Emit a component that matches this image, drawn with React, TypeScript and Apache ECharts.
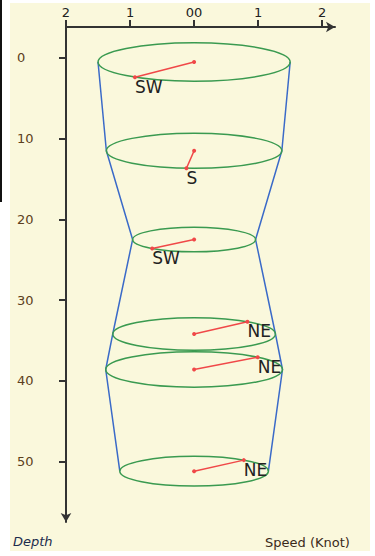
import React, { useEffect, useRef } from "react";
import * as echarts from "echarts";

const depths = [0.5, 11.5, 22.5, 34.2, 38.6, 51.2];
const speeds = [1.5, 1.37, 0.96, 1.27, 1.38, 1.16];
const directions = [218, 185, 223, 41, 46, 42];
const dirLabels = ["SW", "S", "SW", "NE", "NE", "NE"];
const speedTicks = [-2, -1, 0, 1, 2];
const depthTicks = [0, 10, 20, 30, 40, 50];

const FONT = '"DejaVu Sans", Verdana, sans-serif';

export default function App() {
  const ref = useRef<HTMLDivElement>(null);
  useEffect(() => {
    if (!ref.current) return;
    const chart = echarts.init(ref.current, null, { renderer: "svg" });
    const ellipseData = depths.map((d, i) => [d, speeds[i], directions[i], i]);
    const leftEdge = depths.map((d, i) => [-speeds[i], d]);
    const rightEdge = depths.map((d, i) => [speeds[i], d]);
    const axisColor = "#333";
    chart.setOption({
      animation: false,
      backgroundColor: "#ffffff",
      grid: { left: 66, top: 27, right: 40, bottom: 34, outerBoundsMode: "none" },
      xAxis: {
        type: "value",
        position: "top",
        min: -2,
        max: 2.2,
        axisLine: {
          show: true,
          onZero: false,
          symbol: ["none", "arrow"],
          symbolSize: [8, 9],
          lineStyle: { color: axisColor, width: 2 },
        },
        axisTick: {
          show: true,
          customValues: speedTicks,
          length: 7,
          lineStyle: { color: axisColor, width: 2 },
        },
        axisLabel: {
          customValues: speedTicks,
          formatter: (v: number) => (v === 0 ? "00" : String(Math.abs(v))),
          color: "#222",
          fontSize: 13,
          fontFamily: FONT,
          margin: 8,
        },
        splitLine: { show: false },
      },
      yAxis: {
        type: "value",
        inverse: true,
        min: -3.84,
        max: 57.5,
        axisLine: {
          show: true,
          onZero: false,
          symbol: ["arrow", "none"],
          symbolSize: [8, 9],
          lineStyle: { color: axisColor, width: 2 },
        },
        axisTick: {
          show: true,
          customValues: depthTicks,
          length: 7,
          lineStyle: { color: axisColor, width: 2 },
        },
        axisLabel: {
          customValues: depthTicks,
          align: "left",
          margin: 49,
          color: "#5c4020",
          fontSize: 13,
          fontFamily: FONT,
        },
        splitLine: { show: false },
      },
      graphic: [
        { type: "rect", z: -100, shape: { x: 10, y: 3, width: 360, height: 548 }, style: { fill: "#faf8dc" } },
        { type: "rect", z: -100, shape: { x: 0, y: 0, width: 2, height: 202 }, style: { fill: "#111" } },
        {
          type: "text",
          x: 13,
          y: 535,
          style: { text: "Depth", fill: "#1c2c4c", font: `italic 13px ${FONT}`, align: "left", verticalAlign: "top" },
        },
        {
          type: "text",
          x: 265,
          y: 536,
          style: { text: "Speed (Knot)", fill: "#3a2a1a", font: `13px ${FONT}`, align: "left", verticalAlign: "top" },
        },
      ],
      series: [
        {
          type: "line",
          data: leftEdge,
          symbol: "none",
          lineStyle: { color: "#3a6ac8", width: 1.5 },
          z: 2,
        },
        {
          type: "line",
          data: rightEdge,
          symbol: "none",
          lineStyle: { color: "#3a6ac8", width: 1.5 },
          z: 2,
        },
        {
          type: "custom",
          data: ellipseData,
          encode: { x: 1, y: 0 },
          z: 3,
          renderItem: (params: any, api: any) => {
            const d = api.value(0);
            const s = api.value(1);
            const dir = api.value(2);
            const idx = api.value(3);
            const c = api.coord([0, d]);
            const rx = api.size([s, 0])[0];
            const ry = rx * 0.2;
            const a = (dir * Math.PI) / 180;
            const ex = c[0] + rx * Math.sin(a);
            const ey = c[1] - ry * Math.cos(a);
            const red = "#f04848";
            return {
              type: "group",
              children: [
                {
                  type: "ellipse",
                  shape: { cx: c[0], cy: c[1], rx, ry },
                  style: { fill: "none", stroke: "#3a9a50", lineWidth: 1.5 },
                },
                {
                  type: "line",
                  shape: { x1: c[0], y1: c[1], x2: ex, y2: ey },
                  style: { stroke: red, lineWidth: 1.5 },
                },
                { type: "circle", shape: { cx: c[0], cy: c[1], r: 2 }, style: { fill: red } },
                { type: "circle", shape: { cx: ex, cy: ey, r: 2 }, style: { fill: red } },
                {
                  type: "text",
                  x: ex,
                  y: ey + 1,
                  style: {
                    text: dirLabels[idx],
                    fill: "#222",
                    font: `17px ${FONT}`,
                    align: "left",
                    verticalAlign: "top",
                  },
                },
              ],
            };
          },
        },
      ],
    });
    return () => chart.dispose();
  }, []);
  return (
    <div
      ref={ref}
      style={{ position: "absolute", left: 0, top: 0, width: 375, height: 556 }}
    />
  );
}
